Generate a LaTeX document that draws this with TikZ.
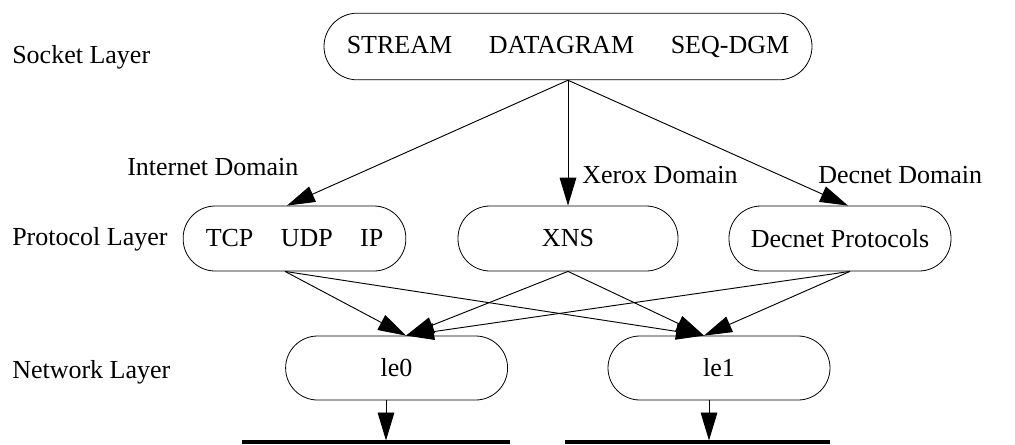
\documentclass[tikz,border=0pt]{standalone}
\usepackage{fontspec}
\setmainfont{Liberation Serif}
\usetikzlibrary{arrows.meta,calc}
\begin{document}
\begin{tikzpicture}[x=0.75pt,y=-0.75pt,
  every node/.style={font=\fontsize{19.5}{23}\selectfont},
  pill/.style={draw,line width=0.6pt,rounded corners=24pt,minimum height=48.75pt,inner sep=0pt},
  lbl/.style={anchor=base west,inner sep=0pt},
  arr/.style={line width=0.7pt,-{Triangle[length=21pt,width=12.5pt]}},
  bus/.style={line width=2.6pt}]
\useasboundingbox (0,0) rectangle (1015,444);
% layer labels
\node[lbl] (sl) at (12,63) {Socket Layer};
\node[lbl] (pl) at (12,245) {Protocol Layer};
\node[lbl] (nl) at (12,378) {Network Layer};
% boxes
\node[pill,minimum width=366pt,minimum height=50pt,rounded corners=25pt] (sock) at (568,46.5)
  {STREAM\hspace{27.5pt}DATAGRAM\hspace{27.5pt}SEQ-DGM};
\node[pill,minimum width=167pt] (tcp) at (294.5,238.5) {TCP\hspace{20.5pt}UDP\hspace{20.5pt}IP};
\node[pill,minimum width=165pt] (xns) at (568,238.5) {XNS};
\node[pill,minimum width=166.5pt] (dec) at (840,238.5) {Decnet Protocols};
\node[pill,minimum width=166.5pt,minimum height=48pt] (le0) at (396.6,368) {le0};
\node[pill,minimum width=166.5pt,minimum height=48pt] (le1) at (719,368) {le1};
% domain labels
\node[lbl] (inet) at (127,175) {Internet Domain};
\node[lbl] (xer) at (582,183) {Xerox Domain};
\node[lbl] (decd) at (818,183) {Decnet Domain};
% buses
\coordinate (b0l) at (241.5,442);
\coordinate (b0r) at (510,442);
\coordinate (b1l) at (565,442);
\coordinate (b1r) at (830,442);
\draw[bus] (b0l) -- (b0r);
\draw[bus] (b1l) -- (b1r);
\coordinate (b0) at (386,440.5);
\coordinate (b1) at (709,440.5);
% socket -> protocols
\draw[arr] (sock.south) -- ($(tcp.north)+(-7.5,0)$);
\draw[arr] (sock.south) -- (xns.north);
\draw[arr] (sock.south) -- ($(dec.north)+(8,0)$);
% protocols -> network
\coordinate (t0) at ($(le0.north)+(9.4,0)$);
\coordinate (t1) at ($(le1.north)+(-15,0)$);
\draw[arr] ($(tcp.south)+(-9.5,0)$) -- (t0);
\draw[arr] ($(tcp.south)+(-9.5,0)$) -- (t1);
\draw[arr] (xns.south) -- (t0);
\draw[arr] (xns.south) -- (t1);
\draw[arr] ($(dec.south)+(10,0)$) -- (t0);
\draw[arr] ($(dec.south)+(10,0)$) -- (t1);
% network -> buses
\draw[arr] ($(le0.south)+(-10.6,0)$) -- (b0);
\draw[arr] ($(le1.south)+(-10,0)$) -- (b1);
\end{tikzpicture}
\end{document}
